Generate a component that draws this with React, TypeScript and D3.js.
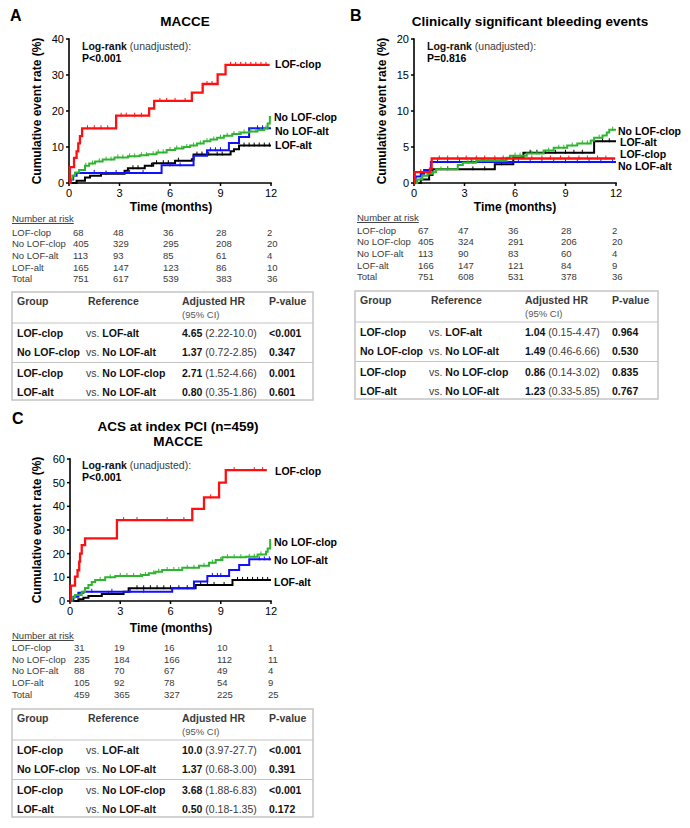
import React from "react";
import * as d3 from "d3";

type Pt = [number, number];

const MONTH_TICKS = [0, 3, 6, 9, 12];
const GROUPS = ["LOF-clop", "No LOF-clop", "No LOF-alt", "LOF-alt"];
const RISK_LABELS = ["LOF-clop", "No LOF-clop", "No LOF-alt", "LOF-alt", "Total"];
const COLORS: Record<string, string> = {
  "LOF-clop": "#ff1010",
  "No LOF-clop": "#2db52d",
  "No LOF-alt": "#1010ff",
  "LOF-alt": "#000000",
};
const DRAW_ORDER = ["LOF-alt", "No LOF-alt", "No LOF-clop", "LOF-clop"];

// ---------- Panel A: MACCE ----------
const A_LOF_CLOP: Pt[] = [[0, 0], [0.05, 4.4], [0.3, 7], [0.45, 8.8], [0.55, 11], [0.65, 13], [0.78, 15.2], [2.8, 18.7], [4.76, 20.7], [5.06, 22.8], [7.3, 25.1], [7.94, 27.5], [8.83, 30.2], [9.3, 32.8], [11.92, 32.8]];
const A_NO_LOF_CLOP: Pt[] = [[0, 0], [0.08, 1.2], [0.2, 2], [0.36, 2.9], [0.6, 3.6], [0.95, 4.8], [1.2, 5.4], [1.55, 6], [2, 6.5], [2.7, 7.1], [3.5, 7.4], [4.2, 7.7], [4.7, 8], [5.2, 8.5], [5.8, 9.2], [6.3, 9.6], [6.8, 10], [7.2, 10.4], [7.6, 11], [8, 11.6], [8.4, 12.1], [8.8, 12.6], [9.2, 13.1], [9.7, 13.6], [10.2, 14], [10.7, 14.3], [11.2, 14.7], [11.6, 15.2], [11.8, 16.5], [11.93, 18.3], [12, 18.3]];
const A_NO_LOF_ALT: Pt[] = [[0, 0], [0.1, 1], [0.25, 2], [0.45, 2.8], [5.5, 4.9], [7.4, 7.6], [8.2, 9.1], [9.5, 11.1], [10.1, 12.8], [10.7, 15.2], [12, 15.2]];
const A_LOF_ALT: Pt[] = [[0, 0], [0.45, 0.6], [0.95, 1.5], [1.25, 2], [1.9, 2.6], [3.3, 3.4], [3.5, 4.1], [4.5, 4.8], [5, 5.5], [6.3, 6.2], [7.3, 6.6], [7.4, 7.9], [9.6, 8.8], [9.8, 9.4], [10.1, 10.4], [12, 10.4]];

const A_CENS_LOF_CLOP = [1.1, 1.5, 1.9, 2.3, 3.1, 3.4, 3.9, 4.3, 5.4, 5.8, 6.3, 6.9, 8.2, 8.5, 9.6, 9.9, 10.2, 10.5, 10.8, 11.1, 11.4, 11.7];
const A_CENS_NO_LOF_CLOP = [1.0, 1.4, 1.8, 2.2, 2.5, 2.9, 3.2, 3.6, 3.9, 4.3, 4.6, 5.0, 5.3, 5.6, 6.0, 6.4, 6.7, 7.0, 7.4, 7.8, 8.2, 8.6, 9.0, 9.4, 9.8, 10.1, 10.4, 10.8, 11.1, 11.4, 11.7];
const A_CENS_NO_LOF_ALT = [1.5, 2.8, 3.6, 4.4, 6.0, 6.6, 8.4, 8.7, 9.0, 11.2, 11.5, 11.8];
const A_CENS_LOF_ALT = [2.2, 3.8, 4.1, 4.9, 5.2, 5.6, 5.9, 6.5, 7.6, 7.9, 8.3, 8.8, 9.1, 10.4, 10.7, 11.0, 11.3, 11.6, 11.9];

const A_RISK = [[68, 48, 36, 28, 2], [405, 329, 295, 208, 20], [113, 93, 85, 61, 4], [165, 147, 123, 86, 10], [751, 617, 539, 383, 36]];
const A_HR = ["4.65", "1.37", "2.71", "0.80"];
const A_CI = ["(2.22-10.0)", "(0.72-2.85)", "(1.52-4.66)", "(0.35-1.86)"];
const A_P = ["<0.001", "0.347", "0.001", "0.601"];

// ---------- Panel B: bleeding ----------
const B_LOF_CLOP: Pt[] = [[0, 0], [0.05, 1.5], [0.95, 2], [1.05, 3.4], [11.95, 3.4]];
const B_NO_LOF_CLOP: Pt[] = [[0, 0], [0.2, 0.5], [0.5, 1], [0.8, 1.3], [1.1, 1.5], [1.3, 1.9], [2.6, 2.5], [2.9, 2.8], [3.7, 3.1], [5.5, 3.5], [5.7, 3.8], [6.7, 4.1], [7.7, 4.5], [8.3, 4.9], [9.1, 5.2], [9.7, 5.5], [10.5, 5.9], [10.7, 6.3], [11.2, 6.6], [11.45, 7], [11.6, 7.4], [12, 7.4]];
const B_NO_LOF_ALT: Pt[] = [[0, 0], [0.1, 0.9], [0.4, 1.3], [0.6, 1.8], [1.0, 2.9], [12, 2.9]];
const B_LOF_ALT: Pt[] = [[0, 0], [0.4, 0.5], [0.9, 1.1], [1.1, 1.9], [4.8, 2.6], [5.9, 3.5], [6.5, 4.2], [10.7, 5.8], [12, 5.8]];

const B_CENS_LOF_CLOP = [0.4, 1.5, 2.0, 2.6, 3.1, 3.7, 4.2, 4.8, 5.3, 5.9, 6.4, 7.0, 7.6, 8.1, 8.7, 9.2, 9.8, 10.3, 10.9, 11.4];
const B_CENS_NO_LOF_CLOP = [1.6, 2.0, 3.2, 3.5, 4.0, 4.4, 4.8, 5.2, 6.0, 6.3, 7.0, 7.3, 8.0, 8.6, 8.9, 9.4, 10.0, 10.3, 11.0, 11.8];
const B_CENS_NO_LOF_ALT = [1.4, 2.0, 2.7, 3.4, 4.1, 4.8, 5.5, 6.2, 6.9, 7.6, 8.3, 9.0, 9.7, 10.4, 11.1, 11.8];
const B_CENS_LOF_ALT = [2.0, 3.5, 4.2, 5.2, 6.9, 7.3, 7.8, 8.4, 9.0, 9.5, 10.0, 11.2, 11.6];

const B_RISK = [[67, 47, 36, 28, 2], [405, 324, 291, 206, 20], [113, 90, 83, 60, 4], [166, 147, 121, 84, 9], [751, 608, 531, 378, 36]];
const B_HR = ["1.04", "1.49", "0.86", "1.23"];
const B_CI = ["(0.15-4.47)", "(0.46-6.66)", "(0.14-3.02)", "(0.33-5.85)"];
const B_P = ["0.964", "0.530", "0.835", "0.767"];

// ---------- Panel C: ACS MACCE ----------
const C_LOF_CLOP: Pt[] = [[0, 0], [0.05, 6.5], [0.3, 10.3], [0.45, 13], [0.55, 16.6], [0.6, 20], [0.7, 23.6], [0.9, 26.5], [2.8, 34.2], [7.3, 38.9], [8, 43.8], [8.9, 50], [9.3, 55.3], [11.75, 55.3]];
const C_NO_LOF_CLOP: Pt[] = [[0, 0], [0.1, 1.5], [0.3, 2.5], [0.7, 3.9], [0.9, 5.5], [1.1, 6.8], [1.3, 8], [1.5, 8.9], [2.1, 10], [2.7, 10.6], [4.3, 11], [4.7, 11.7], [5.1, 12.4], [5.5, 13.1], [6.7, 14], [7.7, 14.9], [8.3, 16.2], [8.7, 17.3], [9.1, 18.5], [10.5, 18.7], [11.2, 19.7], [11.7, 20.8], [11.8, 22.2], [11.95, 25.8], [12, 25.8]];
const C_NO_LOF_ALT: Pt[] = [[0, 0], [0.2, 1.8], [0.5, 3.5], [0.8, 3.9], [6.1, 5.4], [7.4, 8.2], [8.2, 10.6], [9.5, 13.1], [10.1, 15.2], [10.7, 17.6], [12, 17.6]];
const C_LOF_ALT: Pt[] = [[0, 0], [0.5, 0.7], [0.8, 1.4], [1.1, 2.1], [1.9, 3], [3.2, 3.9], [3.5, 5.4], [7.5, 6.8], [9.7, 8.9], [12, 8.9]];

const C_CENS_LOF_CLOP = [3.2, 4.0, 5.8, 6.8, 8.4, 9.8, 11.0, 11.5];
const C_CENS_NO_LOF_CLOP = [1.8, 2.4, 3.0, 3.4, 3.8, 4.2, 4.5, 5.0, 5.3, 5.8, 6.2, 6.5, 7.0, 7.4, 8.0, 8.5, 9.0, 9.4, 9.8, 10.2, 10.7, 11.0, 11.4];
const C_CENS_NO_LOF_ALT = [1.3, 2.5, 3.6, 4.4, 8.5, 8.8, 9.0, 11.3, 11.6, 11.9];
const C_CENS_LOF_ALT = [2.3, 4.0, 4.4, 4.8, 5.2, 5.6, 6.0, 6.5, 7.0, 7.8, 8.2, 8.6, 9.2, 10.0, 10.3, 10.6, 10.9, 11.2, 11.5, 11.8];

const C_RISK = [[31, 19, 16, 10, 1], [235, 184, 166, 112, 11], [88, 70, 67, 49, 4], [105, 92, 78, 54, 9], [459, 365, 327, 225, 25]];
const C_HR = ["10.0", "1.37", "3.68", "0.50"];
const C_CI = ["(3.97-27.7)", "(0.68-3.00)", "(1.88-6.83)", "(0.18-1.35)"];
const C_P = ["<0.001", "0.391", "<0.001", "0.172"];

const HR_GROUP = ["LOF-clop", "No LOF-clop", "LOF-clop", "LOF-alt"];
const HR_REF = ["LOF-alt", "No LOF-alt", "No LOF-clop", "No LOF-alt"];

const FONT = "'Liberation Sans', Arial, Helvetica, sans-serif";
const TXT_GREY = "#3a3a3a";

type Layout = {
  letter: string; letterX: number; letterY: number;
  titles: { text: string; y: number }[]; titleX: number;
  x0: number; x1: number; yTop: number; yBottom: number; ymax: number; yticks: number[];
  yTitleX: number; yTitleY: number; timeX: number; timeY: number;
  logX: number; logY: number; pText: string;
  labelPos: Record<string, [number, number]>;
  riskX: number; riskTitleY: number; riskY0: number; riskDy: number;
  tableL: number; tableR: number; tableT: number;
};

type PanelData = {
  curves: Record<string, Pt[]>;
  censor: Record<string, number[]>;
  risk: number[][];
  hr: string[]; ci: string[]; p: string[];
};

const RISK_COL_OFFSETS = [4, 44, 94, 147, 198];

function stepValue(pts: Pt[], t: number): number {
  let v = 0;
  for (const [x, y] of pts) {
    if (x <= t) v = y;
    else break;
  }
  return v;
}

function Panel({ L, D }: { L: Layout; D: PanelData }) {
  const xs = d3.scaleLinear().domain([0, 12]).range([L.x0, L.x1]);
  const ys = d3.scaleLinear().domain([0, L.ymax]).range([L.yBottom, L.yTop]);
  const line = d3.line<Pt>().x((d) => xs(d[0])).y((d) => ys(d[1])).curve(d3.curveStepAfter);
  const T = L.tableT;
  const colGroup = L.tableL + 5;
  const colRef = L.tableL + 74;
  const colHR = L.tableL + 170;
  const colP = L.tableL + 257;
  const rowY = [T + 45, T + 63.5, T + 85, T + 103.5];
  return (
    <g fontFamily={FONT}>
      <text x={L.letterX} y={L.letterY} fontSize={16} fontWeight="bold">{L.letter}</text>
      {L.titles.map((t, i) => (
        <text key={i} x={L.titleX} y={t.y} fontSize={13.5} fontWeight="bold" textAnchor="middle">{t.text}</text>
      ))}
      {/* axes */}
      <line x1={L.x0} x2={L.x0} y1={L.yTop - 0.8} y2={L.yBottom + 0.8} stroke="#000" strokeWidth={1.6} />
      <line x1={L.x0} x2={L.x1 + 0.8} y1={L.yBottom} y2={L.yBottom} stroke="#000" strokeWidth={1.6} />
      {L.yticks.map((v) => (
        <g key={"y" + v}>
          <line x1={L.x0 - 3} x2={L.x0} y1={ys(v)} y2={ys(v)} stroke="#000" strokeWidth={1.5} />
          <text x={L.x0 - 5} y={ys(v)} dy="0.36em" fontSize={11} textAnchor="end">{v}</text>
        </g>
      ))}
      {MONTH_TICKS.map((m) => (
        <g key={"x" + m}>
          <line x1={xs(m)} x2={xs(m)} y1={L.yBottom} y2={L.yBottom + 3} stroke="#000" strokeWidth={1.5} />
          <text x={xs(m)} y={L.yBottom + 14} fontSize={11} textAnchor="middle">{m}</text>
        </g>
      ))}
      <text transform={`translate(${L.yTitleX},${L.yTitleY}) rotate(-90)`} fontSize={12} fontWeight="bold" textAnchor="middle">Cumulative event rate (%)</text>
      <text x={L.timeX} y={L.timeY} fontSize={12} fontWeight="bold" textAnchor="middle">Time (months)</text>
      {/* log-rank */}
      <text x={L.logX} y={L.logY} fontSize={10.5} fill="#111">
        <tspan fontWeight="bold">Log-rank</tspan>
        <tspan fill={TXT_GREY}> (unadjusted):</tspan>
      </text>
      <text x={L.logX} y={L.logY + 12} fontSize={10.5} fontWeight="bold">{L.pText}</text>
      {/* curves */}
      {DRAW_ORDER.map((g) => (
        <g key={g}>
          <path d={line(D.curves[g]) || ""} fill="none" stroke={COLORS[g]} strokeWidth={g === "LOF-clop" ? 2.3 : 2} />
          {D.censor[g].map((t, i) => {
            const v = stepValue(D.curves[g], t);
            return <line key={i} x1={xs(t)} x2={xs(t)} y1={ys(v) - 3} y2={ys(v) + 1} stroke={COLORS[g]} strokeWidth={1} />;
          })}
        </g>
      ))}
      {GROUPS.map((g) => (
        <text key={"lab" + g} x={L.labelPos[g][0]} y={L.labelPos[g][1]} fontSize={10.5} fontWeight="bold">{g}</text>
      ))}
      {/* number at risk */}
      <text x={L.riskX} y={L.riskTitleY} fontSize={9.5} fill={TXT_GREY} style={{ textDecoration: "underline" }}>Number at risk</text>
      {RISK_LABELS.map((lab, r) => (
        <g key={"r" + r} fontSize={9.5} fill={TXT_GREY}>
          <text x={L.riskX} y={L.riskY0 + r * L.riskDy}>{lab}</text>
          {D.risk[r].map((n, c) => (
            <text key={c} x={L.x0 + RISK_COL_OFFSETS[c]} y={L.riskY0 + r * L.riskDy}>{n}</text>
          ))}
        </g>
      ))}
      {/* HR table */}
      <rect x={L.tableL} y={T} width={L.tableR - L.tableL} height={108} fill="none" stroke="#c4c4c4" strokeWidth={1.5} />
      <line x1={L.tableL} x2={L.tableR} y1={T + 31} y2={T + 31} stroke="#c4c4c4" strokeWidth={1.2} />
      <line x1={L.tableL} x2={L.tableR} y1={T + 70.5} y2={T + 70.5} stroke="#c4c4c4" strokeWidth={1.2} />
      <g fontSize={10.5}>
        <text x={colGroup} y={T + 13} fontWeight="bold" fill={TXT_GREY}>Group</text>
        <text x={colRef + 2} y={T + 13} fontWeight="bold" fill={TXT_GREY}>Reference</text>
        <text x={colHR} y={T + 13} fontWeight="bold" fill={TXT_GREY}>Adjusted HR</text>
        <text x={colP} y={T + 13} fontWeight="bold" fill={TXT_GREY}>P-value</text>
        <text x={colHR} y={T + 25.5} fontSize={9.5} fill="#555">(95% CI)</text>
        {HR_GROUP.map((g, i) => (
          <g key={"hr" + i}>
            <text x={colGroup} y={rowY[i]} fontWeight="bold" fill="#111">{g}</text>
            <text x={colRef} y={rowY[i]} fill="#111">
              <tspan fill={TXT_GREY}>vs. </tspan>
              <tspan fontWeight="bold">{HR_REF[i]}</tspan>
            </text>
            <text x={colHR} y={rowY[i]} fill="#111">
              <tspan fontWeight="bold">{D.hr[i]}</tspan>
              <tspan fill={TXT_GREY}> {D.ci[i]}</tspan>
            </text>
            <text x={colP} y={rowY[i]} fontWeight="bold" fill="#111">{D.p[i]}</text>
          </g>
        ))}
      </g>
    </g>
  );
}

const LAYOUT_A: Layout = {
  letter: "A", letterX: 10, letterY: 21,
  titles: [{ text: "MACCE", y: 26 }], titleX: 185,
  x0: 69, x1: 271, yTop: 39, yBottom: 183, ymax: 40, yticks: [0, 10, 20, 30, 40],
  yTitleX: 41, yTitleY: 111, timeX: 171, timeY: 211,
  logX: 82, logY: 50, pText: "P<0.001",
  labelPos: { "LOF-clop": [275, 68], "No LOF-clop": [274, 121], "No LOF-alt": [275, 135], "LOF-alt": [275, 149] },
  riskX: 12, riskTitleY: 222, riskY0: 235.5, riskDy: 11.7,
  tableL: 12, tableR: 313, tableT: 292,
};

const LAYOUT_B: Layout = {
  letter: "B", letterX: 350, letterY: 21,
  titles: [{ text: "Clinically significant bleeding events", y: 26 }], titleX: 530,
  x0: 414, x1: 616, yTop: 39, yBottom: 183, ymax: 20, yticks: [0, 5, 10, 15, 20],
  yTitleX: 386, yTitleY: 111, timeX: 515, timeY: 211,
  logX: 427, logY: 50, pText: "P=0.816",
  labelPos: { "No LOF-clop": [618, 134.5], "LOF-alt": [620, 146], "LOF-clop": [620, 158], "No LOF-alt": [618, 170] },
  riskX: 357, riskTitleY: 221, riskY0: 233.5, riskDy: 11.7,
  tableL: 355, tableR: 658, tableT: 291,
};

const LAYOUT_C: Layout = {
  letter: "C", letterX: 12, letterY: 424,
  titles: [{ text: "ACS at index PCI (n=459)", y: 431 }, { text: "MACCE", y: 446 }], titleX: 178,
  x0: 70, x1: 271, yTop: 459, yBottom: 601, ymax: 60, yticks: [0, 10, 20, 30, 40, 50, 60],
  yTitleX: 41, yTitleY: 530, timeX: 171, timeY: 632,
  logX: 82, logY: 469, pText: "P<0.001",
  labelPos: { "LOF-clop": [275, 475], "No LOF-clop": [274, 546], "No LOF-alt": [274, 564], "LOF-alt": [274, 586] },
  riskX: 12, riskTitleY: 639, riskY0: 651, riskDy: 11.7,
  tableL: 12, tableR: 313, tableT: 709,
};

const DATA_A: PanelData = {
  curves: { "LOF-clop": A_LOF_CLOP, "No LOF-clop": A_NO_LOF_CLOP, "No LOF-alt": A_NO_LOF_ALT, "LOF-alt": A_LOF_ALT },
  censor: { "LOF-clop": A_CENS_LOF_CLOP, "No LOF-clop": A_CENS_NO_LOF_CLOP, "No LOF-alt": A_CENS_NO_LOF_ALT, "LOF-alt": A_CENS_LOF_ALT },
  risk: A_RISK, hr: A_HR, ci: A_CI, p: A_P,
};
const DATA_B: PanelData = {
  curves: { "LOF-clop": B_LOF_CLOP, "No LOF-clop": B_NO_LOF_CLOP, "No LOF-alt": B_NO_LOF_ALT, "LOF-alt": B_LOF_ALT },
  censor: { "LOF-clop": B_CENS_LOF_CLOP, "No LOF-clop": B_CENS_NO_LOF_CLOP, "No LOF-alt": B_CENS_NO_LOF_ALT, "LOF-alt": B_CENS_LOF_ALT },
  risk: B_RISK, hr: B_HR, ci: B_CI, p: B_P,
};
const DATA_C: PanelData = {
  curves: { "LOF-clop": C_LOF_CLOP, "No LOF-clop": C_NO_LOF_CLOP, "No LOF-alt": C_NO_LOF_ALT, "LOF-alt": C_LOF_ALT },
  censor: { "LOF-clop": C_CENS_LOF_CLOP, "No LOF-clop": C_CENS_NO_LOF_CLOP, "No LOF-alt": C_CENS_NO_LOF_ALT, "LOF-alt": C_CENS_LOF_ALT },
  risk: C_RISK, hr: C_HR, ci: C_CI, p: C_P,
};

export default function App() {
  return (
    <svg width={690} height={828} style={{ position: "absolute", left: 0, top: 0, background: "#fff" }}>
      <rect x={0} y={0} width={690} height={828} fill="#fff" />
      <Panel L={LAYOUT_A} D={DATA_A} />
      <Panel L={LAYOUT_B} D={DATA_B} />
      <Panel L={LAYOUT_C} D={DATA_C} />
    </svg>
  );
}
